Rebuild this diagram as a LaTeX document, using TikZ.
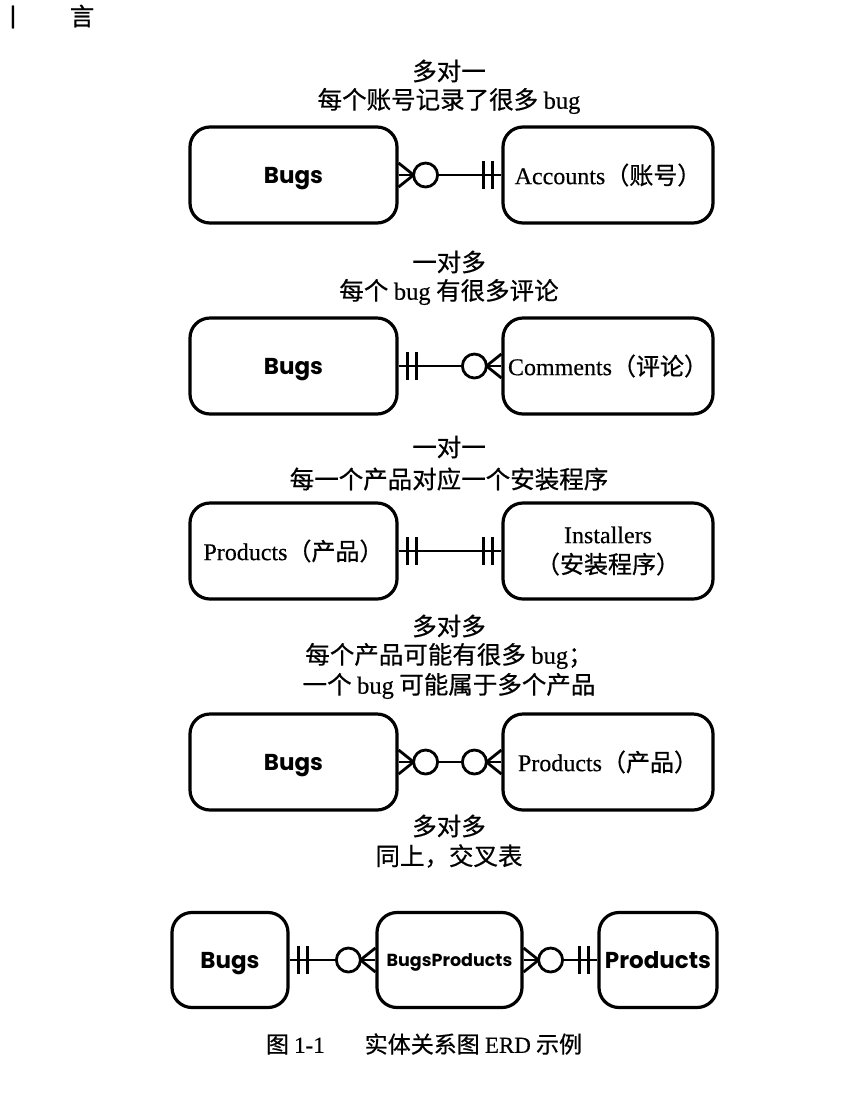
\documentclass[tikz,border=0pt]{standalone}
\usepackage{fontspec}
\setmainfont{Liberation Serif}[FakeBold=0.4]
\newfontfamily\cjk{Noto Sans CJK SC}[FakeBold=0.6]
\newfontfamily\geo{Poppins}
\usetikzlibrary{calc}
\newcommand\zh[1]{{\cjk #1}}
\newcommand\crowfoot[2]{%
  \draw[conn] ($(#1)+(0,-12)$) -- ($(#1)+(#2*15,0)$) -- ($(#1)+(0,12)$);
  \draw[conn,fill=white] ($(#1)+(#2*27,0)$) circle[radius=12pt];
}
\newcommand\twobars[2]{%
  \draw[conn] ($(#1)+(#2*9,-14)$) -- ($(#1)+(#2*9,14)$);
  \draw[conn] ($(#1)+(#2*18,-14)$) -- ($(#1)+(#2*18,14)$);
}
\tikzset{
  ent/.style={draw, line width=3.2pt, rounded corners=20pt, minimum height=96pt, inner sep=0pt, align=center},
  conn/.style={line width=2.8pt},
  ttl/.style={font=\cjk\fontsize{24.5}{30}\selectfont, align=center, inner sep=0pt},
  capt/.style={font=\cjk\fontsize{23}{28}\selectfont, inner sep=0pt},
  lbl/.style={font=\rmfamily\fontsize{24}{30}\selectfont},
  geobig/.style={font=\geo\bfseries\fontsize{23}{28}\selectfont, text depth=0pt},
  geosmall/.style={font=\geo\bfseries\fontsize{17.5}{20}\selectfont, text depth=0pt},
}
\begin{document}
\begin{tikzpicture}[x=1pt,y=-1pt]
\useasboundingbox (0,0) rectangle (846,1096);
% header
\node[ttl] (hdA) at (13,17) {丨};
\node[ttl] (hdB) at (82,16) {言};
% row 1
\node[ttl] (t1a) at (449,71) {多对一};
\node[ttl] (t1b) at (449,101) {每个账号记录了很多 {\rmfamily bug}};
\node[ent, minimum width=207pt, geobig] (bugs1) at (293.5,175) {Bugs};
\node[ent, minimum width=210pt, lbl] (acc) at (608,175) {Accounts\zh{（账号）}};
\draw[conn] (bugs1.east) -- (acc.west);
\crowfoot{bugs1.east}{1}
\twobars{acc.west}{-1}
% row 2
\node[ttl] (t2a) at (449,262) {一对多};
\node[ttl] (t2b) at (449,292) {每个 {\rmfamily bug} 有很多评论};
\node[ent, minimum width=207pt, geobig] (bugs2) at (293.5,366) {Bugs};
\node[ent, minimum width=210pt, lbl] (com) at (608,366) {Comments\zh{（评论）}};
\draw[conn] (bugs2.east) -- (com.west);
\twobars{bugs2.east}{1}
\crowfoot{com.west}{-1}
% row 3
\node[ttl] (t3a) at (449,447) {一对一};
\node[ttl] (t3b) at (449,479) {每一个产品对应一个安装程序};
\node[ent, minimum width=207pt, lbl] (prod3) at (293.5,551) {Products\zh{（产品）}};
\node[ent, minimum width=210pt, lbl] (inst) at (608,551) {Installers\\\zh{（安装程序）}};
\draw[conn] (prod3.east) -- (inst.west);
\twobars{prod3.east}{1}
\twobars{inst.west}{-1}
% row 4
\node[ttl] (t4a) at (449,626) {多对多};
\node[ttl] (t4b) at (449,656) {每个产品可能有很多 {\rmfamily bug}；};
\node[ttl] (t4c) at (449,686) {一个 {\rmfamily bug} 可能属于多个产品};
\node[ent, minimum width=207pt, geobig] (bugs4) at (293.5,762) {Bugs};
\node[ent, minimum width=210pt, lbl] (prod4) at (608,762) {Products\zh{（产品）}};
\draw[conn] (bugs4.east) -- (prod4.west);
\crowfoot{bugs4.east}{1}
\crowfoot{prod4.west}{-1}
% row 5
\node[ttl] (t5a) at (449,826) {多对多};
\node[ttl] (t5b) at (449,856) {同上，交叉表};
\node[ent, minimum width=116pt, minimum height=95pt, geobig] (bugs5) at (230,960) {Bugs};
\node[ent, minimum width=145pt, minimum height=95pt, geosmall] (bp) at (449.5,960) {BugsProducts};
\node[ent, minimum width=118pt, minimum height=95pt, geobig] (prod5) at (658,960) {Products};
\draw[conn] (bugs5.east) -- (bp.west);
\draw[conn] (bp.east) -- (prod5.west);
\twobars{bugs5.east}{1}
\crowfoot{bp.west}{-1}
\crowfoot{bp.east}{1}
\twobars{prod5.west}{-1}
% caption
\node[capt] (cap) at (424,1044) {图 {\rmfamily 1-1}\hspace{40pt}实体关系图 {\rmfamily ERD} 示例};
\end{tikzpicture}
\end{document}
